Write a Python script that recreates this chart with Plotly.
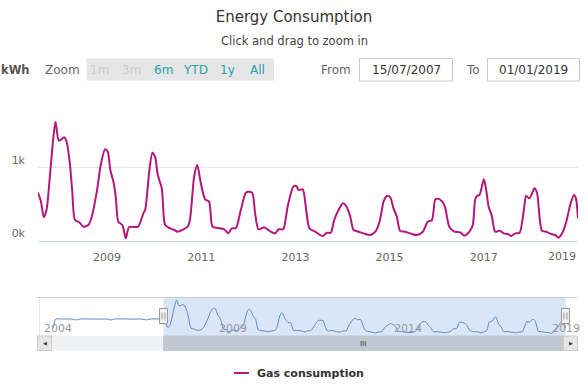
import plotly.graph_objects as go

# ---------------- data ----------------
dates = [
    "2004-05-22", "2004-06-17", "2004-09-01", "2004-12-01", "2005-01-20", "2005-03-01",
    "2005-06-01", "2005-09-01", "2005-12-01", "2006-01-10", "2006-02-20", "2006-06-01",
    "2006-09-01", "2006-12-01", "2007-01-20", "2007-03-01", "2007-06-01",
    "2007-07-15", "2007-08-07", "2007-08-29", "2007-09-19", "2007-10-15", "2007-11-09",
    "2007-11-28", "2007-12-24", "2008-02-03", "2008-02-22", "2008-03-18", "2008-04-05",
    "2008-04-27", "2008-05-28", "2008-07-01", "2008-08-09", "2008-09-04", "2008-10-13",
    "2008-11-15", "2008-12-16", "2009-01-06", "2009-01-26", "2009-02-19", "2009-03-09",
    "2009-03-29", "2009-04-29", "2009-05-26", "2009-06-21", "2009-08-29", "2009-10-09",
    "2009-10-23", "2009-11-25", "2009-12-18", "2010-01-08", "2010-01-29", "2010-03-01",
    "2010-03-27", "2010-04-27", "2010-06-07", "2010-06-30", "2010-09-17", "2010-10-05",
    "2010-11-07", "2010-12-01", "2010-12-29", "2011-01-31", "2011-03-03", "2011-03-29",
    "2011-05-07", "2011-06-28", "2011-07-31", "2011-08-26", "2011-09-26", "2011-11-04",
    "2011-12-13", "2012-01-08", "2012-02-02", "2012-02-23", "2012-03-20", "2012-05-03",
    "2012-06-11", "2012-07-27", "2012-08-23", "2012-09-28", "2012-11-01", "2012-12-15",
    "2013-01-06", "2013-01-26", "2013-02-26", "2013-03-25", "2013-04-19", "2013-06-03",
    "2013-07-31", "2013-09-01", "2013-10-02", "2013-10-28", "2013-12-01", "2014-01-03",
    "2014-01-29", "2014-03-01", "2014-03-27", "2014-05-05", "2014-06-26", "2014-08-04",
    "2014-09-12", "2014-10-15", "2014-11-15", "2014-12-10", "2015-01-06", "2015-01-31",
    "2015-02-26", "2015-03-24", "2015-05-02", "2015-06-23", "2015-07-31", "2015-09-16",
    "2015-10-23", "2015-11-25", "2015-12-22", "2016-01-16", "2016-02-11", "2016-03-05",
    "2016-04-08", "2016-05-17", "2016-07-02", "2016-08-03", "2016-09-11", "2016-10-07",
    "2016-10-25", "2016-11-09", "2016-11-28", "2017-01-01", "2017-01-19", "2017-02-07",
    "2017-03-04", "2017-03-29", "2017-05-03", "2017-06-05", "2017-07-06", "2017-08-01",
    "2017-09-01", "2017-10-05", "2017-11-07", "2017-11-25", "2017-12-21", "2018-01-29",
    "2018-02-18", "2018-03-27", "2018-04-29", "2018-06-07", "2018-07-08", "2018-08-03",
    "2018-09-06", "2018-10-02", "2018-11-05", "2018-12-01", "2018-12-16", "2019-01-01",
]
gas_kwh = [
    290, 725, 730, 728, 690, 730,
    735, 728, 730, 685, 730, 735,
    725, 732, 690, 730, 728,
    651, 536, 323, 423, 877, 1378,
    1628, 1368, 1415, 1355, 1060, 696,
    286, 259, 195, 218, 332, 673,
    1060, 1251, 1218, 969, 809, 604,
    263, 218, 37, 190, 195, 378,
    423, 969, 1205, 1150, 900, 719,
    218, 180, 150, 127, 195, 286,
    877, 1037, 787, 569, 536, 195,
    177, 160, 105, 173, 173, 423,
    659, 673, 651, 378, 160, 187,
    141, 105, 160, 160, 468, 741,
    750, 696, 705, 423, 173, 127,
    68, 113, 113, 286, 423, 514,
    477, 341, 150, 127, 95, 82,
    127, 263, 536, 614, 596, 446,
    332, 136, 127, 95, 82, 127,
    263, 286, 569, 575, 540, 468,
    195, 127, 118, 73, 127, 218,
    559, 614, 628, 842, 696, 468,
    341, 127, 141, 105, 95, 68,
    105, 113, 423, 614, 582, 719,
    651, 141, 127, 95, 82, 45,
    127, 263, 514, 628, 582, 309,
]

view_start, view_end = "2007-07-15", "2019-01-01"
nav_start, nav_end = "2003-12-15", "2019-05-12"
y_ticks = [0, 1000, 2000]
y_tick_labels = ["0k", "1k", ""]
x_ticks = ["2009-01-01", "2011-01-01", "2013-01-01", "2015-01-01", "2017-01-01"]
x_last_tick = "2019"
nav_years = ["2004", "2009", "2014", "2019"]
zoom_buttons = ["1m", "3m", "6m", "YTD", "1y", "All"]
zoom_enabled = [False, False, True, True, True, True]

# ---------------- styling ----------------
W, H = 588, 392
L, R = 38, 10
FONT = "DejaVu Sans"
GAS = "#b2187c"
NAV = "#5b88c6"


def fx(px):
    return (px - L) / (W - L - R)


def fy(py):
    return 1 - py / H


def text(t, px, py, size=12, color="#666666", xanchor="center", xref="paper", x=None):
    return dict(text=t, x=fx(px) if x is None else x, y=fy(py), xref=xref, yref="paper",
                xanchor=xanchor, yanchor="middle", showarrow=False,
                font=dict(size=size, color=color, family=FONT))


fig = go.Figure()
fig.add_trace(go.Scatter(x=dates, y=gas_kwh, mode="lines", name="Gas consumption",
                         line=dict(color=GAS, width=2, shape="spline", smoothing=0.7),
                         xaxis="x", yaxis="y", showlegend=False))
fig.add_trace(go.Scatter(x=dates, y=gas_kwh, mode="lines", name="nav",
                         line=dict(color=NAV, width=1, shape="spline", smoothing=0.7),
                         xaxis="x2", yaxis="y2", showlegend=False, hoverinfo="skip"))

shapes = []
ann = []

NAV_TOP, NAV_BOT = 297.5, 336
SB_BOT = 350.5

# navigator mask, handles, outline
shapes.append(dict(type="rect", xref="x2", yref="paper", x0=view_start, x1=view_end,
                   y0=fy(NAV_BOT), y1=fy(NAV_TOP), fillcolor="rgba(103,155,223,0.25)",
                   line=dict(width=0), layer="below"))
shapes.append(dict(type="line", xref="paper", yref="paper", x0=fx(37), x1=fx(577),
                   y0=fy(NAV_TOP), y1=fy(NAV_TOP), line=dict(color="#cccccc", width=1)))
for xv in (view_start, view_end):
    shapes.append(dict(type="rect", xref="x2", yref="paper", xsizemode="pixel",
                       xanchor=xv, x0=-4, x1=4, y0=fy(323.5), y1=fy(308.5),
                       fillcolor="#f2f2f2", line=dict(color="#999999", width=1)))
    for dx in (-1.5, 1.5):
        shapes.append(dict(type="line", xref="x2", yref="paper", xsizemode="pixel",
                           xanchor=xv, x0=dx, x1=dx, y0=fy(319.5), y1=fy(312.5),
                           line=dict(color="#999999", width=1)))

# scrollbar
shapes.append(dict(type="rect", xref="paper", yref="paper", x0=fx(37.5), x1=fx(577.5),
                   y0=fy(SB_BOT), y1=fy(NAV_BOT), fillcolor="#eff1f3", line=dict(width=0)))
shapes.append(dict(type="rect", xref="x2", yref="paper", x0=view_start, x1=view_end,
                   y0=fy(SB_BOT), y1=fy(NAV_BOT), fillcolor="#c0c8d1", line=dict(color="#c0c8d1", width=1)))
for a, b in ((37.5, 51.5), (563.5, 577.5)):
    shapes.append(dict(type="rect", xref="paper", yref="paper", x0=fx(a), x1=fx(b),
                       y0=fy(SB_BOT), y1=fy(NAV_BOT), fillcolor="#e6e6e6", line=dict(color="#cccccc", width=1)))
ann.append(text("◀", 44.5, 343.2, size=5, color="#333333"))
ann.append(text("▶", 570.5, 343.2, size=5, color="#333333"))
ann.append(text("III", 363, 343.5, size=7, color="#333333"))

# navigator year labels
for i, yr in enumerate(nav_years):
    if i < len(nav_years) - 1:
        a = text(yr, 0, 328, size=11, color="#999999", xanchor="left", xref="x2", x=f"{yr}-01-01")
        a["xshift"] = 2
        ann.append(a)
    else:
        ann.append(text(yr, 582, 328, size=11, color="#999999", xanchor="right"))

# main axis last label (justified inside like the reference)
ann.append(text(x_last_tick, 578, 256.5, size=11, color="#666666", xanchor="right"))

# subtitle
ann.append(text("Click and drag to zoom in", 294, 41, size=11.5, color="#444444"))

# range selector
ann.append(text("<b>kWh</b>", 15.5, 70, size=11.5, color="#555555"))
ann.append(text("Zoom", 62, 70, size=12, color="#666666"))
shapes.append(dict(type="rect", xref="paper", yref="paper", x0=fx(86.5), x1=fx(274),
                   y0=fy(80.5), y1=fy(58.5), fillcolor="#e6e6e6", line=dict(width=0)))
btn_x = [99.5, 131, 163.5, 195, 227, 257]
for lbl, on, bx in zip(zoom_buttons, zoom_enabled, btn_x):
    ann.append(text(lbl, bx, 70, size=12, color="#27a3ad" if on else "#cccccc"))

ann.append(text("From", 335.5, 70))
ann.append(text("To", 472.5, 70))
for a, b, txt in ((359.5, 452.5, "15/07/2007"), (487.5, 579.5, "01/01/2019")):
    shapes.append(dict(type="rect", xref="paper", yref="paper", x0=fx(a), x1=fx(b),
                       y0=fy(81), y1=fy(58.5), fillcolor="white", line=dict(color="#cccccc", width=1)))
    ann.append(text(txt, (a + b) / 2, 70, size=12, color="#333333"))

# legend
shapes.append(dict(type="line", xref="paper", yref="paper", x0=fx(234), x1=fx(249),
                   y0=fy(373), y1=fy(373), line=dict(color=GAS, width=2)))
ann.append(text("<b>Gas consumption</b>", 255, 373, size=11, color="#333333", xanchor="left"))

fig.update_layout(
    width=W, height=H,
    margin=dict(l=L, r=R, t=0, b=0, pad=0, autoexpand=False),
    paper_bgcolor="white", plot_bgcolor="white",
    font=dict(family=FONT, color="#666666"),
    title=dict(text="Energy Consumption", x=fx(294), xref="paper", y=fy(17), yref="paper",
               xanchor="center", yanchor="middle", font=dict(size=15, color="#333333", family=FONT)),
    xaxis=dict(domain=[0, 1], anchor="y", type="date", range=[view_start, view_end],
               tickvals=x_ticks, tickformat="%Y", showgrid=False, zeroline=False,
               showline=True, linecolor="#ccd6eb", linewidth=1, ticks="",
               tickfont=dict(size=11, color="#666666", family=FONT), ticklabelstandoff=6),
    yaxis=dict(domain=[fy(241), fy(93.7)], anchor="x", range=[0, 2010],
               tickvals=y_ticks, ticktext=y_tick_labels, showgrid=True, gridcolor="#e6e6e6",
               zeroline=False, showline=False, ticks="", ticklabelposition="outside top",
               ticklabelstandoff=12, tickfont=dict(size=11, color="#666666", family=FONT)),
    xaxis2=dict(domain=[0, 1], anchor="y2", type="date", range=[nav_start, nav_end],
                tickvals=[f"{y}-01-01" for y in nav_years], showticklabels=False,
                showgrid=True, gridcolor="#e6e6e6", zeroline=False, showline=False, ticks=""),
    yaxis2=dict(domain=[fy(NAV_BOT), fy(NAV_TOP)], anchor="x2", range=[-80, 1760],
                showticklabels=False, showgrid=False, zeroline=False, showline=False, ticks=""),
    shapes=shapes, annotations=ann, showlegend=False,
)

fig.write_html("out.html", config={"displayModeBar": False},
               post_script="document.body.style.margin='0';")
